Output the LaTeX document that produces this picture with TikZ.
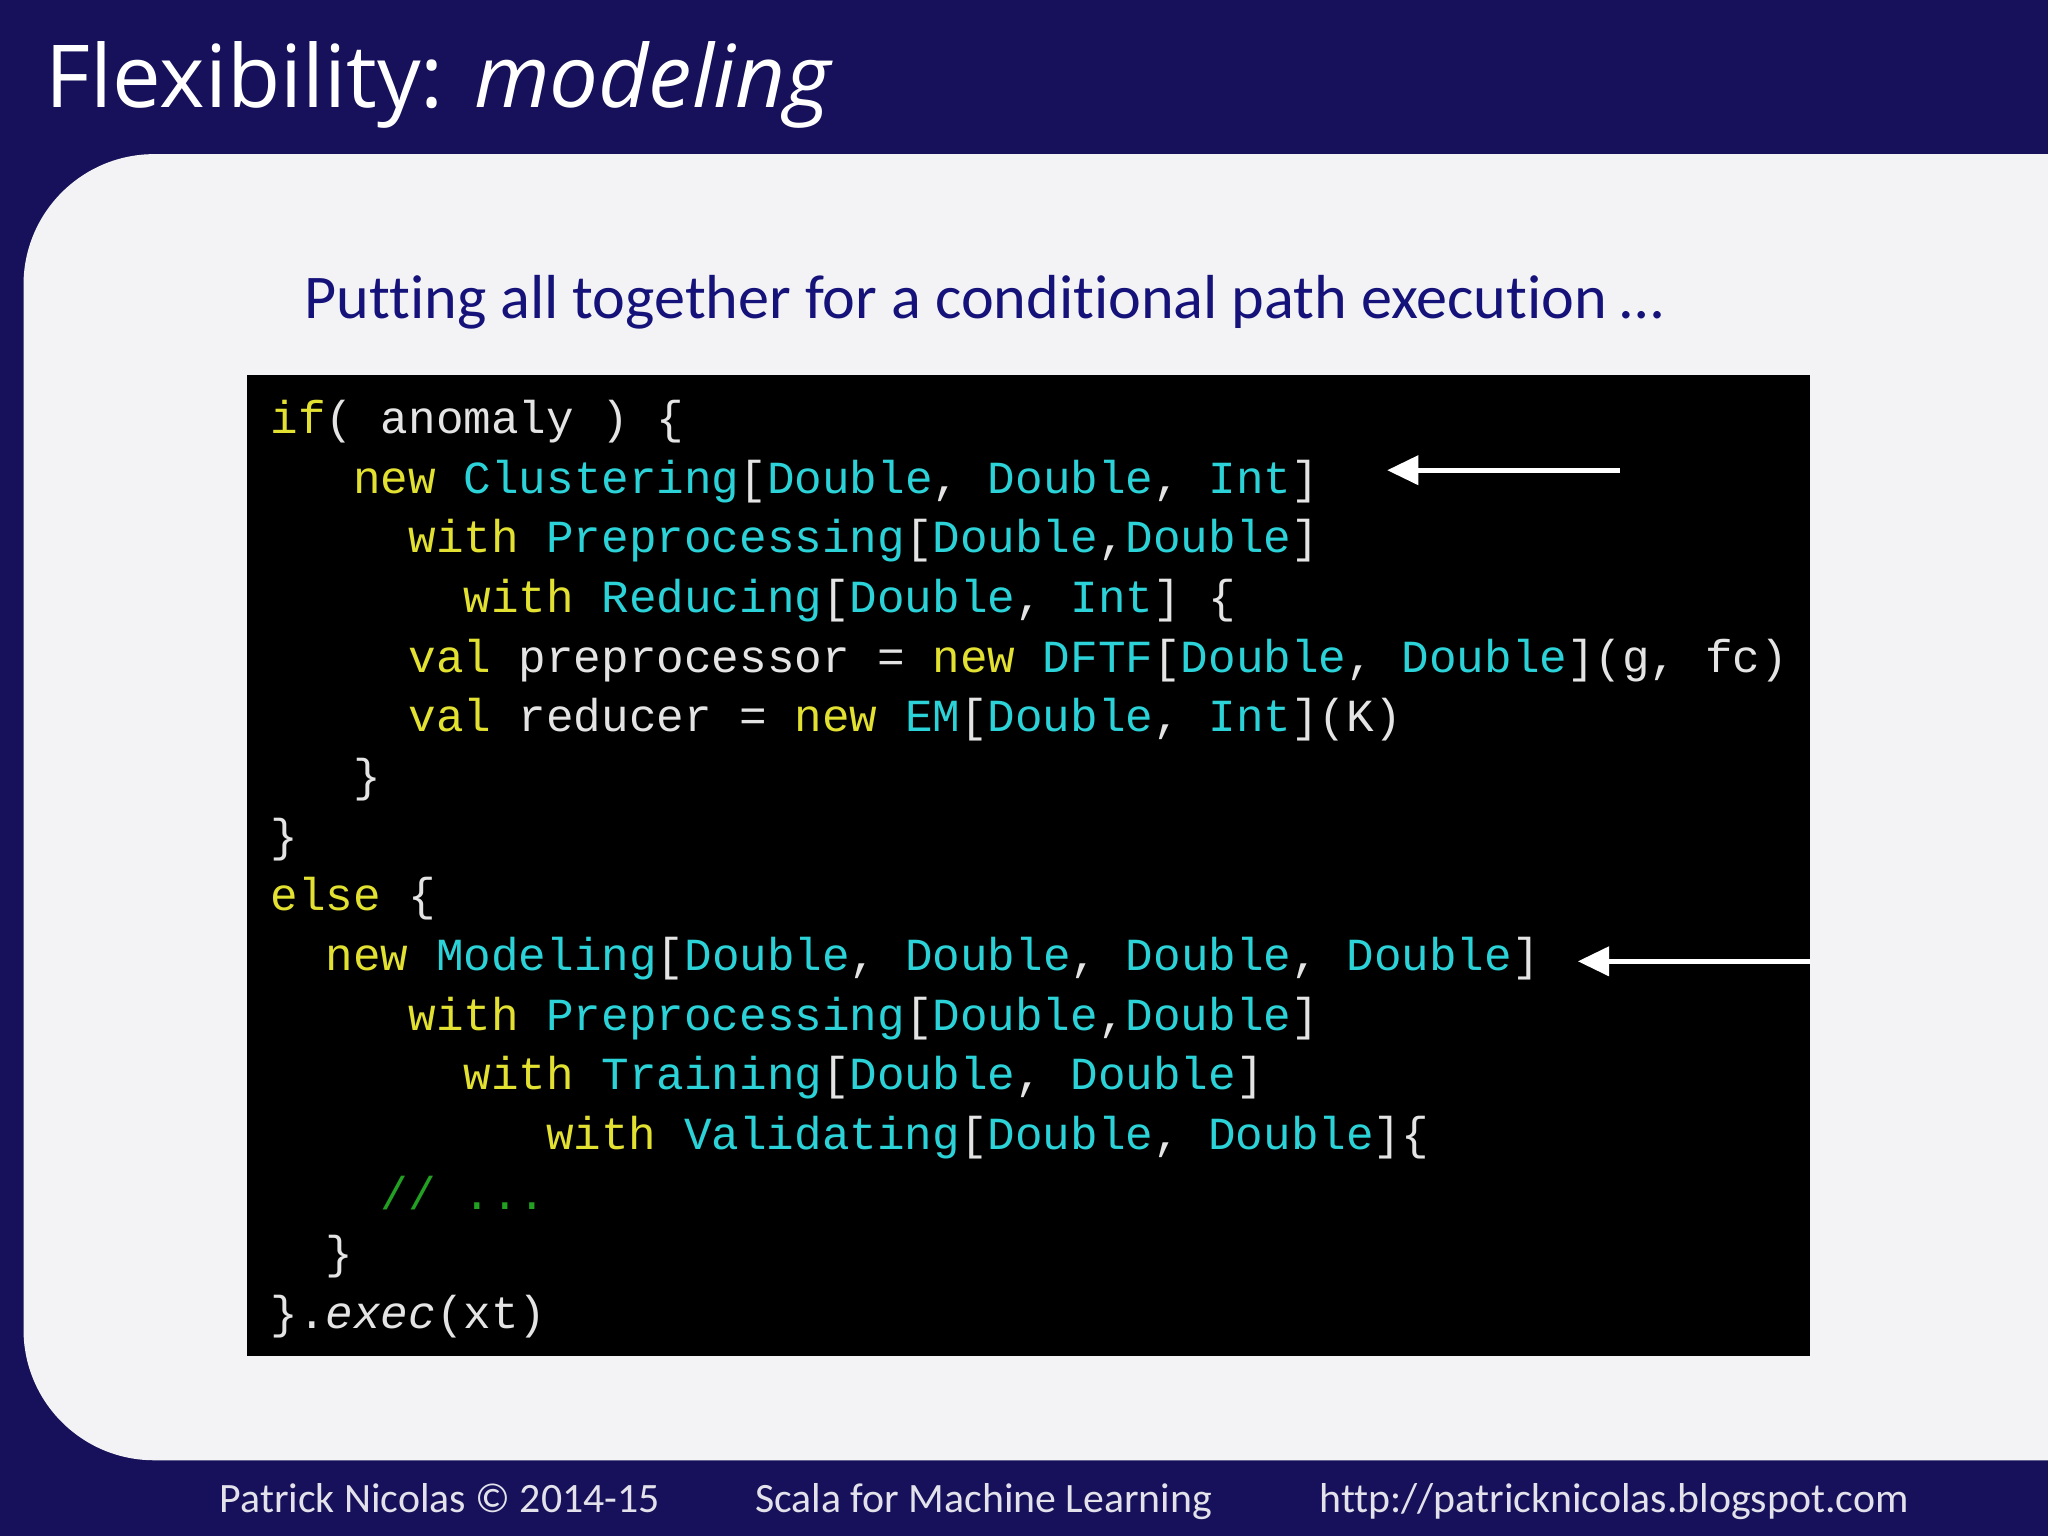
\documentclass[tikz,border=0pt]{standalone}
\usepackage{fontspec}
\setmainfont[Ligatures=NoCommon]{Carlito}
\newfontfamily\titlefont{Open Sans}
\setmonofont{Liberation Mono}
\usetikzlibrary{arrows.meta}
\definecolor{navy}{HTML}{16115A}
\definecolor{panel}{HTML}{F3F3F5}
\definecolor{subt}{HTML}{15127A}
\definecolor{kw}{HTML}{E2E030}
\definecolor{ty}{HTML}{2BD3D8}
\definecolor{pl}{HTML}{E4E4E4}
\definecolor{cm}{HTML}{22A022}
\newcommand{\K}[1]{\textcolor{kw}{#1}}
\newcommand{\T}[1]{\textcolor{ty}{#1}}
\newcommand{\C}[1]{\textcolor{cm}{#1}}
\begin{document}
\begin{tikzpicture}[x=1pt,y=-1pt,
  code/.style={anchor=base west,inner sep=0,text=pl,font=\fontsize{35.2}{40}\selectfont\ttfamily},
  arr/.style={white,line width=4pt,-{Triangle[width=22pt,length=24pt]}}]
\useasboundingbox (0,0) rectangle (1568,1176);
\fill[navy] (0,0) rectangle (1568,1176);
\fill[panel] (1568,118) [rounded corners=100pt] -- (18,118) -- (18,1118) [sharp corners] -- (1568,1118) -- cycle;
\node[anchor=base west,inner sep=0,text=white,font=\fontsize{66.5}{72}\selectfont\titlefont] (title) at (35,82) {Flexibility: \textit{modeling}};
\node[anchor=base west,inner sep=0,text=subt,font=\fontsize{47.6}{52}\selectfont] (sub) at (233,244) {Putting all together for a conditional path execution …};
\fill[black] (189,287) rectangle (1386,1038);
\def\cw{21.1}
\def\lh{45.67}
\node[code] (l1) at (207,332) {\K{if}( anomaly ) \{};
\node[code] (l2) at (207+3*\cw,332+\lh) {\K{new} \T{Clustering}[\T{Double}, \T{Double}, \T{Int}]};
\node[code] (l3) at (207+5*\cw,332+2*\lh) {\K{with} \T{Preprocessing}[\T{Double},\T{Double}]};
\node[code] (l4) at (207+7*\cw,332+3*\lh) {\K{with} \T{Reducing}[\T{Double}, \T{Int}] \{};
\node[code] (l5) at (207+5*\cw,332+4*\lh) {\K{val} preprocessor = \K{new} \T{DFTF}[\T{Double}, \T{Double}](g, fc)};
\node[code] (l6) at (207+5*\cw,332+5*\lh) {\K{val} reducer = \K{new} \T{EM}[\T{Double}, \T{Int}](K)};
\node[code] (l7) at (207+3*\cw,332+6*\lh) {\}};
\node[code] (l8) at (207,332+7*\lh) {\}};
\node[code] (l9) at (207,332+8*\lh) {\K{else} \{};
\node[code] (l10) at (207+2*\cw,332+9*\lh) {\K{new} \T{Modeling}[\T{Double}, \T{Double}, \T{Double}, \T{Double}]};
\node[code] (l11) at (207+5*\cw,332+10*\lh) {\K{with} \T{Preprocessing}[\T{Double},\T{Double}]};
\node[code] (l12) at (207+7*\cw,332+11*\lh) {\K{with} \T{Training}[\T{Double}, \T{Double}]};
\node[code] (l13) at (207+10*\cw,332+12*\lh) {\K{with} \T{Validating}[\T{Double}, \T{Double}]\{};
\node[code] (l14) at (207+4*\cw,332+13*\lh) {\C{// ...}};
\node[code] (l15) at (207+2*\cw,332+14*\lh) {\}};
\node[code] (l16) at (207,332+15*\lh) {\}.\textit{exec}(xt)};
\coordinate (a1s) at (1240,360); \coordinate (a1e) at (1062,360);
\coordinate (a2s) at (1386,736); \coordinate (a2e) at (1208,736);
\draw[arr] (a1s) -- (a1e);
\draw[arr] (a2s) -- (a2e);
\begin{scope}[every node/.style={anchor=base west,inner sep=0,text=white!88!navy,font=\fontsize{32}{34}\selectfont}]
\node (f1) at (168,1158) {Patrick Nicolas © 2014-15};
\node (f2) at (578,1158) {Scala for Machine Learning};
\node (f3) at (1010,1158) {http://patricknicolas.blogspot.com};
\end{scope}
\end{tikzpicture}
\end{document}
